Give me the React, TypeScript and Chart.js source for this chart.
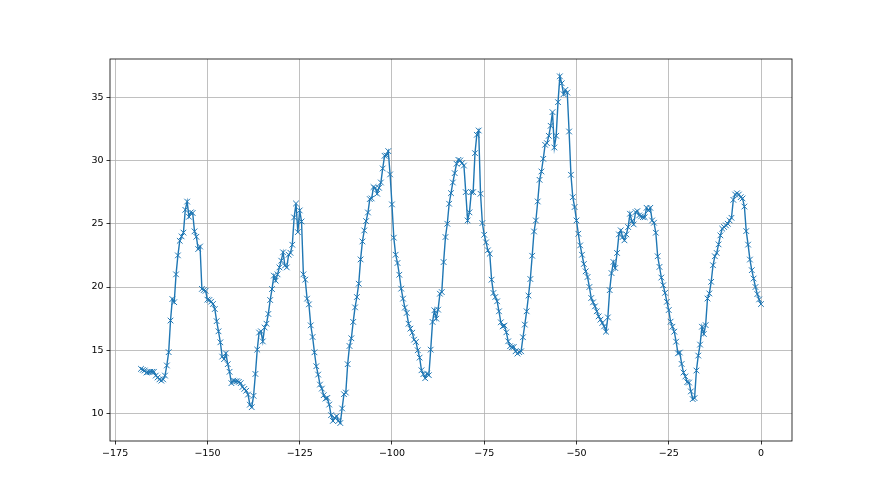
import { useEffect, useRef } from "react";
import { Chart, registerables } from "chart.js";

Chart.register(...registerables);

// Half-hourly readings, hours relative to now
const START_HOUR = -168;
const STEP_HOURS = 0.5;

// -168 .. -126
const VALUES_A = [
  13.53, 13.45, 13.4, 13.24, 13.28, 13.3, 13.3, 13.3, 13.0, 12.85,
  12.7, 12.6, 12.7, 13.0, 13.8, 14.85, 17.35, 19.05, 18.8, 21.0,
  22.5, 23.65, 24.0, 24.3, 26.1, 26.75, 25.55, 25.9, 25.85, 24.4,
  23.97, 23.0, 23.2, 19.85, 19.76, 19.7, 19.0, 18.97, 18.84, 18.66,
  18.26, 17.3, 16.5, 15.63, 14.5, 14.3, 14.76, 13.9, 13.3, 12.4,
  12.6, 12.55, 12.55, 12.5, 12.4, 12.1, 11.95, 11.8, 11.5, 10.7,
  10.5, 11.4, 13.13, 15.05, 16.4, 16.5, 15.7, 16.8, 17.1, 17.87,
  18.97, 19.84, 20.9, 20.5, 21.0, 21.55, 22.08, 22.74, 21.7, 21.55,
  22.55, 22.7, 23.34, 25.5, 26.6,
];

// -125.5 .. -84.5
const VALUES_B = [
  24.34, 26.05, 25.18, 21.0, 20.58, 19.08, 18.63, 16.97, 16.05, 14.84,
  13.74, 13.08, 12.29, 11.97, 11.45, 11.18, 11.24, 10.71, 9.87, 9.42,
  9.66, 9.79, 9.42, 9.25, 10.4, 11.53, 11.66, 13.9, 15.34, 15.95,
  17.24, 18.39, 19.21, 20.26, 22.18, 23.6, 24.47, 25.21, 25.89, 26.95,
  27.0, 27.9, 27.82, 27.37, 27.84, 28.26, 29.37, 30.37, 30.39, 30.74,
  28.9, 26.53, 23.9, 22.55, 21.9, 20.97, 19.87, 19.08, 18.37, 17.95,
  17.1, 16.71, 16.39, 15.84, 15.66, 15.0, 14.42, 13.42, 13.11, 12.79,
  13.16, 13.03, 15.05, 17.24, 18.16, 17.5, 18.21, 19.47, 19.6, 21.97,
  23.95, 25.0, 26.58,
];

// -84 .. -42.5
const VALUES_C = [
  27.42, 28.26, 29.0, 29.74, 30.05, 30.0, 29.79, 29.6, 27.5, 25.26,
  25.9, 27.5, 27.5, 30.58, 32.03, 32.37, 27.37, 25.05, 24.13, 23.53,
  22.9, 22.63, 20.58, 19.53, 19.21, 18.87, 18.08, 17.21, 16.89, 16.95,
  16.42, 15.71, 15.32, 15.24, 15.26, 14.92, 14.74, 14.85, 14.92, 16.03,
  17.03, 18.08, 19.32, 20.63, 22.47, 24.39, 25.26, 26.76, 28.47, 29.13,
  30.13, 31.24, 31.37, 31.95, 32.74, 33.82, 31.03, 31.95, 34.61, 36.65,
  36.1, 35.24, 35.58, 35.37, 32.29, 28.87, 27.1, 26.32, 25.26, 24.21,
  23.29, 22.55, 21.82, 21.24, 20.79, 20.0, 19.13, 18.79, 18.47, 18.08,
  17.68, 17.42, 17.16, 16.89,
];

// -42 .. 0
const VALUES_D = [
  16.47, 17.6, 19.75, 21.1, 21.98, 21.5, 22.69, 24.16, 24.48, 23.95,
  23.69, 24.16, 24.74, 25.79, 25.21, 24.95, 25.92, 26.0, 25.66, 25.58,
  25.52, 25.52, 26.26, 26.05, 26.26, 25.26, 25.08, 24.29, 22.43, 21.59,
  20.75, 20.14, 19.54, 18.83, 18.18, 17.26, 16.86, 16.47, 15.68, 14.76,
  14.82, 13.92, 13.24, 12.93, 12.48, 12.45, 11.75, 11.14, 11.22, 13.4,
  14.58, 15.45, 16.86, 16.29, 16.99, 19.09, 19.49, 20.41, 21.72, 22.43,
  22.69, 23.37, 24.08, 24.61, 24.74, 24.87, 25.0, 25.26, 25.47, 26.89,
  27.31, 27.41, 27.31, 27.1, 27.0, 26.36, 24.42, 23.35, 22.17, 21.33,
  20.67, 20.0, 19.44, 19.02, 18.65,
];

const VALUES = [...VALUES_A, ...VALUES_B, ...VALUES_C, ...VALUES_D];

const X_TICKS = [-175, -150, -125, -100, -75, -50, -25, 0];
const Y_TICKS = [10, 15, 20, 25, 30, 35];
const X_MIN = -176.4;
const X_MAX = 8.4;
const Y_MIN = 7.83;
const Y_MAX = 38.02;

const fmt = (v: number) => (v < 0 ? "\u2212" + Math.abs(v) : String(v));

const framePlugin = {
  id: "frame",
  afterDraw(chart: any) {
    const { ctx, chartArea: a } = chart;
    ctx.save();
    ctx.strokeStyle = "#000";
    ctx.lineWidth = 0.8;
    ctx.strokeRect(a.left, a.top, a.right - a.left, a.bottom - a.top);
    ctx.restore();
  },
};

export default function App() {
  const ref = useRef<HTMLCanvasElement | null>(null);

  useEffect(() => {
    document.body.style.margin = "0";
    const points = VALUES.map((y, i) => ({ x: START_HOUR + i * STEP_HOURS, y }));
    const tickFont = { family: "'DejaVu Sans', sans-serif", size: 9.5 };
    const chart = new Chart(ref.current as HTMLCanvasElement, {
      type: "line",
      data: {
        datasets: [
          {
            data: points,
            borderColor: "#1f77b4",
            borderWidth: 1.4,
            pointStyle: "crossRot",
            pointRadius: 4,
            pointBorderWidth: 1,
            pointBorderColor: "#1f77b4",
            pointBackgroundColor: "rgba(0,0,0,0)",
            tension: 0,
            fill: false,
          },
        ],
      },
      options: {
        animation: false,
        responsive: false,
        devicePixelRatio: 1,
        layout: { padding: { top: 59, right: 88, left: 0, bottom: 0 } },
        plugins: { legend: { display: false }, tooltip: { enabled: false } },
        scales: {
          x: {
            type: "linear",
            min: X_MIN,
            max: X_MAX,
            afterBuildTicks: (s: any) => {
              s.ticks = X_TICKS.map((v) => ({ value: v }));
            },
            afterFit: (s: any) => {
              s.height = 54;
            },
            border: { display: false },
            grid: {
              color: "#b0b0b0",
              lineWidth: 0.8,
              tickColor: "#000",
              tickLength: 3.5,
              tickWidth: 0.8,
            },
            ticks: {
              autoSkip: false,
              maxRotation: 0,
              padding: 3,
              color: "#000",
              font: tickFont,
              callback: (v: any) => fmt(Number(v)),
            },
          },
          y: {
            type: "linear",
            min: Y_MIN,
            max: Y_MAX,
            afterBuildTicks: (s: any) => {
              s.ticks = Y_TICKS.map((v) => ({ value: v }));
            },
            afterFit: (s: any) => {
              s.width = 110;
            },
            border: { display: false },
            grid: {
              color: "#b0b0b0",
              lineWidth: 0.8,
              tickColor: "#000",
              tickLength: 3.5,
              tickWidth: 0.8,
            },
            ticks: {
              autoSkip: false,
              padding: 3,
              color: "#000",
              font: tickFont,
              callback: (v: any) => fmt(Number(v)),
            },
          },
        },
      },
      plugins: [framePlugin],
    } as any);
    return () => chart.destroy();
  }, []);

  return (
    <div style={{ position: "absolute", left: 0, top: 0, width: 880, height: 495 }}>
      <canvas ref={ref} width={880} height={495} style={{ display: "block", width: 880, height: 495 }} />
    </div>
  );
}
